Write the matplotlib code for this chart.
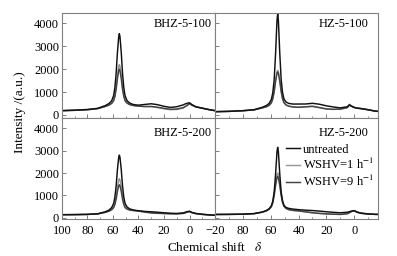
import matplotlib
matplotlib.use("Agg")
import matplotlib.pyplot as plt

plt.rcParams['font.family'] = ['Liberation Serif', 'DejaVu Serif']
plt.rcParams['mathtext.fontset'] = 'stix'
plt.rcParams['font.size'] = 9

# chemical shift grid (ppm) shared by all spectra
ppm = [100, 90, 80, 72, 66, 63, 61, 59.5, 58.5, 57.5, 56.5, 55.5, 55, 54.5, 53.5, 52.5, 51.5, 50.5,
       49, 47, 44, 40, 35, 30, 25, 20, 15, 10, 5, 3.5, 2, 0, -2, -5, -10, -15, -20]

# BHZ-5-100
bhz100_untreated = [190, 210, 240, 290, 410, 505, 625, 840, 1190, 1820, 2730, 3420, 3550, 3420, 2730, 1820, 1190, 840,
                    630, 525, 455, 430, 460, 490, 450, 380, 330, 360, 440, 480, 510, 535, 450, 360, 300, 240, 190]
bhz100_1h = [190, 205, 230, 280, 375, 440, 520, 645, 850, 1210, 1730, 2130, 2200, 2130, 1730, 1210, 850, 650,
             535, 460, 415, 390, 365, 360, 320, 270, 230, 240, 300, 350, 400, 480, 420, 350, 290, 235, 185]
bhz100_9h = [188, 203, 228, 278, 372, 434, 505, 619, 800, 1120, 1584, 1936, 2000, 1936, 1584, 1120, 800, 620,
             520, 454, 412, 386, 370, 375, 340, 290, 250, 260, 320, 370, 420, 500, 430, 355, 295, 238, 188]

# HZ-5-100
hz100_untreated = [145, 160, 190, 230, 337, 415, 515, 690, 976, 1550, 2700, 4130, 4420, 4130, 2700, 1550, 980, 700,
                   565, 505, 477, 479, 480, 510, 470, 400, 350, 310, 360, 430, 380, 330, 300, 280, 230, 170, 140]
hz100_1h = [145, 158, 185, 225, 313, 365, 432, 543, 728, 1054, 1526, 1885, 1950, 1885, 1526, 1054, 728, 545,
            442, 385, 353, 336, 360, 385, 330, 270, 250, 260, 330, 470, 400, 330, 300, 280, 230, 170, 140]
hz100_9h = [143, 156, 183, 222, 311, 362, 427, 533, 710, 1022, 1474, 1818, 1880, 1818, 1474, 1022, 710, 538,
            437, 382, 351, 335, 355, 375, 320, 262, 245, 255, 320, 450, 390, 325, 295, 275, 225, 168, 140]

# BHZ-5-200
bhz200_untreated = [140, 145, 155, 180, 270, 350, 458, 635, 915, 1425, 2150, 2700, 2800, 2700, 2150, 1425, 915, 640,
                    488, 400, 350, 315, 285, 270, 250, 225, 205, 195, 220, 245, 275, 295, 240, 195, 160, 135, 115]
bhz200_1h = [140, 143, 152, 175, 249, 308, 379, 488, 653, 953, 1373, 1692, 1750, 1692, 1373, 953, 655, 490,
             409, 358, 329, 305, 265, 235, 215, 200, 185, 180, 200, 225, 255, 280, 230, 190, 155, 132, 115]
bhz200_9h = [138, 141, 150, 172, 244, 297, 359, 450, 585, 831, 1173, 1433, 1480, 1433, 1173, 831, 590, 455,
             389, 347, 324, 302, 255, 215, 200, 190, 180, 175, 195, 220, 250, 275, 225, 185, 150, 130, 112]

# HZ-5-200
hz200_untreated = [150, 155, 165, 190, 260, 330, 413, 541, 746, 1155, 1953, 2950, 3150, 2950, 1953, 1155, 756, 556,
                   463, 420, 390, 365, 340, 325, 300, 270, 245, 225, 250, 275, 300, 320, 260, 210, 175, 155, 150]
hz200_1h = [150, 153, 162, 185, 254, 318, 398, 523, 715, 1065, 1558, 1932, 2000, 1932, 1558, 1065, 725, 538,
            428, 368, 334, 310, 270, 230, 200, 180, 165, 155, 185, 230, 285, 320, 250, 200, 170, 155, 150]
hz200_9h = [148, 151, 160, 183, 251, 312, 386, 502, 678, 998, 1447, 1788, 1850, 1788, 1447, 998, 688, 517,
            416, 362, 331, 308, 265, 225, 195, 175, 160, 150, 180, 225, 278, 312, 245, 198, 168, 153, 148]

labels = ['untreated', 'WSHV=1 h$^{-1}$', 'WSHV=9 h$^{-1}$']
colors = ['#111111', '#9a9a9a', '#444444']
y_ticks = [0, 1000, 2000, 3000, 4000]

fig = plt.figure(figsize=(3.97, 2.56), dpi=100)
L, M, R = 0.156, 0.5416, 0.952
B, H, T = 0.1426, 0.541, 0.951
ax_tl = fig.add_axes([L, H, M - L, T - H])
ax_tr = fig.add_axes([M, H, R - M, T - H])
ax_bl = fig.add_axes([L, B, M - L, H - B])
ax_br = fig.add_axes([M, B, R - M, H - B])

panels = [
    (ax_tl, 'BHZ-5-100', [bhz100_untreated, bhz100_1h, bhz100_9h], (-110, 4475), 0.98),
    (ax_tr, 'HZ-5-100', [hz100_untreated, hz100_1h, hz100_9h], (-110, 4475), 0.945),
    (ax_bl, 'BHZ-5-200', [bhz200_untreated, bhz200_1h, bhz200_9h], (-75, 4480), 0.98),
    (ax_br, 'HZ-5-200', [hz200_untreated, hz200_1h, hz200_9h], (-75, 4480), 0.945),
]

for ax, name, curves, ylim, tx in panels:
    # draw light curves first, black on top
    for i in [1, 2, 0]:
        ax.plot(ppm, curves[i], color=colors[i], lw=1.05, label=labels[i])
    ax.set_ylim(*ylim)
    ax.set_yticks(y_ticks)
    ty = 0.89 if ax in (ax_tl, ax_tr) else 0.85
    ax.text(tx, ty, name, transform=ax.transAxes, ha='right', va='center')
    for s in ax.spines.values():
        s.set_color('#808080')
    ax.tick_params(direction='in', length=3, width=0.7, color='#808080', pad=2)
    ax.tick_params(axis='x', pad=4)
    ax.tick_params(which='minor', direction='in', length=1.8, width=0.6, color='#808080')

for ax in (ax_tl, ax_bl):
    ax.set_xlim(100, -20)
    ax.set_xticks([100, 80, 60, 40, 20, 0, -20])
    ax.set_xticks(range(90, -20, -20), minor=True)
for ax in (ax_tr, ax_br):
    ax.set_xlim(100, -17)
    ax.set_xticks([80, 60, 40, 20, 0])
    ax.set_xticks(range(90, -17, -20), minor=True)
    ax.tick_params(labelleft=False)
for ax in (ax_tl, ax_tr):
    ax.tick_params(labelbottom=False)

h, l = ax_br.get_legend_handles_labels()
order = [l.index(x) for x in labels]
ax_br.legend([h[i] for i in order], [l[i] for i in order], loc='upper right',
             bbox_to_anchor=(0.975, 0.745), frameon=False, handlelength=1.1,
             handletextpad=0.2, labelspacing=0.15, borderpad=0, borderaxespad=0)

fig.text(0.05, 0.5625, 'Intensity /(a.u.)', rotation=90, ha='center', va='center', fontsize=9.5)
fig.text(0.54, 0.035, r'Chemical shift   $\delta$', ha='center', va='center', fontsize=9.5)

fig.savefig('out.png', dpi=100)
